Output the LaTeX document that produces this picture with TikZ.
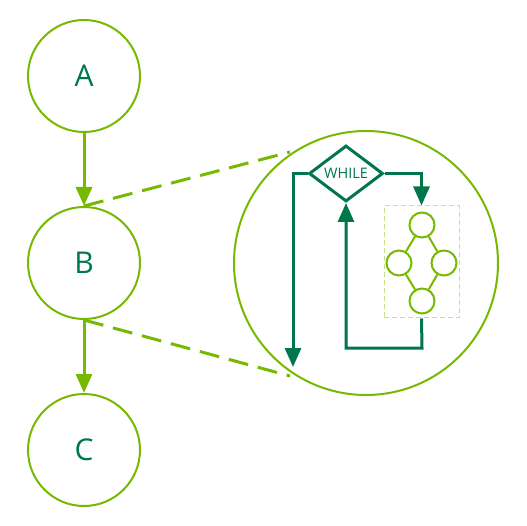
\documentclass[tikz,border=0pt]{standalone}
\usepackage{fontspec}
\setmainfont{Open Sans}
\usetikzlibrary{arrows.meta,shapes.geometric}
\definecolor{lg}{HTML}{76B900}
\definecolor{dg}{HTML}{00774A}
\definecolor{pg}{HTML}{C4E38A}
\begin{document}
\begin{tikzpicture}[x=1pt,y=-1pt,
  big/.style={circle,draw=lg,line width=2pt,minimum size=112pt,inner sep=0pt,text=dg,font=\fontsize{30}{30}\selectfont},
  small/.style={circle,draw=lg,line width=2pt,minimum size=25pt,inner sep=0pt},
  lgarrow/.style={draw=lg,line width=3pt,-{Triangle[length=19pt,width=16pt]}},
  dgarrow/.style={draw=dg,line width=3pt,-{Triangle[length=19pt,width=16pt]}},
  zoomline/.style={draw=lg,line width=3pt,dash pattern=on 20pt off 10pt},
  whilebox/.style={diamond,draw=dg,line width=3pt,minimum width=74pt,minimum height=56pt,inner sep=0pt,text=dg,font=\fontsize{14.5}{14.5}\selectfont}
]
\useasboundingbox (0,0) rectangle (527,526);
\node[big] (A) at (84,76) {A};
\node[big] (B) at (84,263) {B};
\node[big] (C) at (84,450) {C};
\draw[lgarrow] (A.south) -- (B.north);
\draw[lgarrow] (B.south) -- (C.north);
\node[circle,draw=lg,line width=2pt,minimum size=264pt,inner sep=0pt] (Z) at (366,263) {};
\coordinate (zt) at (290,152);
\coordinate (zb) at (290,376);
\draw[zoomline] (B.north) -- (zt);
\draw[zoomline] (B.south) -- (zb);
% while loop
\node[whilebox] (W) at (346,173.5) {WHILE};
\node[draw=pg,line width=1pt,dash pattern=on 5pt off 3pt,minimum width=75pt,minimum height=112pt,inner sep=0pt] (box) at (421.5,262) {};
\node[small] (s1) at (422,225) {};
\node[small] (s2) at (399,263) {};
\node[small] (s3) at (444,263) {};
\node[small] (s4) at (422,301) {};
\draw[lg,line width=2pt] (s1) -- (s2) (s1) -- (s3) (s2) -- (s4) (s3) -- (s4);
\coordinate (exit) at (293,367);
\draw[dgarrow] (W.west) -| (exit);
\draw[dgarrow] (W.east) -| (box.north);
\draw[dgarrow] (box.south) -- (422,348) -| (W.south);
\end{tikzpicture}
\end{document}
